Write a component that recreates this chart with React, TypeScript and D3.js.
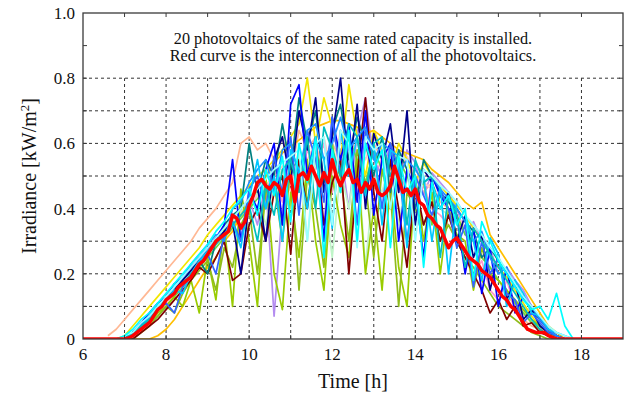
import * as d3 from "d3";

// sampling grid of the 20 single-site curves (h)
const TIME = d3.range(66, 179, 2).map((v) => v / 10);
// sampling grid of the interconnected (red) curve (h)
const RED_TIME = d3.range(60, 191).map((v) => v / 10);

const X_LABELS = [6, 8, 10, 12, 14, 16, 18];
const Y_LABELS = [0, 0.2, 0.4, 0.6, 0.8, 1.0];

const PV_PEACH = [.01,.03,.06,.09,.12,.15,.18,.21,.24,.27,.30,.34,.37,.40,.44,.48,.60, .62,.58,.60,.55,.62,.50,.64,.58,.62,.45,.60,.55,.62,.50,.58,.60,.55,.50,.56,.52,.50,.45,.48,.42, .40,.36,.33,.30,.25,.22,.18,.14,.10,.06,.04,.03,.02,.01,0,0];
const PV_PINK = [0,0,0,.01,.03,.05,.08,.11,.14,.17,.20,.23,.26,.29,.32,.35,.38, .41,.44,.47,.50,.42,.55,.48,.58,.52,.60,.45,.62,.55,.50,.60,.48,.56,.52,.45,.50,.42,.47,.40,.38, .35,.30,.28,.20,.24,.15,.12,.18,.10,.08,.05,.03,.02,0,0,0];
const PV_LAVENDER = [0,0,0,.01,.03,.06,.09,.12,.15,.18,.21,.24,.27,.30,.33,.37,.40, .43,.35,.48,.07,.40,.55,.45,.60,.50,.35,.62,.58,.40,.63,.74,.55,.50,.60,.46,.58,.54,.44,.51,.48, .45,.40,.32,.36,.30,.28,.20,.22,.18,.15,.10,.06,.03,.01,0,0];
const PV_ROSE = [0,0,0,.01,.03,.05,.08,.11,.14,.17,.20,.23,.26,.29,.32,.35,.38, .41,.44,.47,.50,.53,.45,.58,.55,.60,.62,.50,.64,.58,.60,.55,.62,.57,.55,.52,.56,.50,.48,.46,.44, .42,.38,.34,.30,.26,.22,.18,.14,.12,.08,.10,.05,.03,.01,0,0];
const PV_MINT = [0,0,0,.01,.03,.06,.09,.12,.15,.18,.21,.24,.27,.30,.33,.36,.39, .42,.45,.35,.48,.52,.40,.56,.30,.55,.45,.25,.52,.40,.58,.22,.50,.45,.55,.35,.50,.40,.30,.45,.40, .38,.30,.34,.20,.28,.22,.18,.15,.12,.09,.06,.04,.02,.01,0,0];
const PV_GREEN = [0,0,0,.01,.03,.05,.07,.10,.13,.16,.19,.22,.25,.28,.31,.34,.37, .40,.43,.46,.49,.35,.52,.55,.42,.58,.50,.60,.45,.62,.55,.48,.58,.52,.40,.55,.50,.45,.48,.35,.44, .42,.38,.32,.30,.25,.22,.18,.15,.11,.08,.05,.03,.01,0,0,0];
const PV_GOLD = [0,0,0,0,0,0,.01,.03,.06,.10,.14,.18,.22,.25,.30,.33,.38, .42,.46,.50,.54,.57,.59,.61,.63,.65,.66,.67,.67,.66,.65,.63,.64,.62,.60,.58,.57,.56,.55,.52,.50, .48,.45,.42,.40,.42,.32,.28,.24,.20,.16,.12,.08,.04,.02,0,0];
const PV_YELLOW = [0,0,.01,.04,.07,.10,.13,.16,.19,.22,.25,.28,.32,.35,.38,.41,.44, .47,.50,.52,.55,.58,.62,.66,.80,.60,.74,.65,.55,.78,.62,.50,.64,.58,.52,.60,.55,.48,.54,.50,.47, .44,.41,.38,.34,.30,.26,.22,.19,.15,.11,.07,.04,.02,0,0,0];
const PV_YELLOWGREEN = [0,0,0,.01,.03,.05,.08,.10,.13,.10,.18,.08,.25,.12,.35,.10,.46, .30,.10,.50,.20,.09,.45,.25,.55,.30,.15,.50,.35,.25,.55,.20,.40,.15,.48,.22,.10,.50,.30,.45,.20, .40,.32,.30,.15,.28,.20,.18,.15,.12,.09,.06,.04,.02,0,0,0];
const PV_OLIVE = [0,0,0,0,.02,.04,.07,.10,.08,.14,.18,.21,.24,.15,.28,.22,.35, .40,.20,.45,.48,.30,.52,.15,.50,.40,.22,.55,.50,.30,.58,.48,.25,.52,.45,.10,.45,.40,.35,.42,.30, .35,.30,.25,.22,.18,.14,.10,.08,.06,.04,.02,.01,0,0,0,0];
const PV_MAROON = [0,0,0,0,.02,.04,.06,.09,.12,.15,.18,.22,.20,.25,.30,.18,.20, .35,.40,.30,.45,.50,.26,.55,.40,.60,.35,.48,.55,.20,.50,.74,.45,.30,.55,.40,.22,.48,.35,.42,.30, .38,.30,.25,.20,.15,.08,.12,.06,.10,.04,.05,.02,.01,0,0,0];
const PV_TEAL = [0,0,0,.02,.04,.07,.10,.12,.15,.18,.21,.24,.20,.30,.35,.38,.40, .60,.45,.55,.50,.66,.52,.74,.60,.70,.48,.64,.72,.55,.68,.60,.50,.62,.45,.58,.52,.40,.55,.50,.45, .42,.40,.36,.33,.25,.28,.24,.20,.17,.13,.09,.06,.03,.01,0,0];
const PV_NAVY = [0,0,0,.01,.03,.06,.09,.12,.15,.18,.21,.24,.27,.30,.33,.36,.20, .42,.47,.30,.55,.62,.48,.70,.58,.74,.45,.62,.80,.50,.72,.40,.63,.55,.66,.45,.70,.35,.52,.48,.40, .45,.30,.38,.25,.32,.15,.26,.12,.18,.06,.09,.04,.02,.01,0,0];
const PV_BLUE = [0,0,0,.02,.05,.08,.11,.13,.17,.19,.22,.25,.28,.31,.35,.55,.30, .45,.40,.52,.60,.35,.72,.78,.50,.62,.30,.68,.55,.66,.42,.70,.38,.55,.60,.30,.52,.46,.25,.50,.44, .40,.38,.20,.34,.14,.28,.10,.22,.08,.13,.10,.06,.03,.01,0,0];
const PV_MEDBLUE = [0,0,0,.02,.04,.06,.09,.11,.08,.16,.20,.23,.26,.20,.32,.36,.30, .46,.50,.40,.56,.45,.62,.38,.64,.55,.42,.68,.50,.60,.35,.64,.58,.40,.60,.52,.30,.50,.44,.38,.46, .40,.28,.35,.16,.30,.20,.25,.14,.12,.05,.08,.05,.02,.01,0,0];
const PV_DODGER = [0,0,0,.01,.04,.07,.09,.13,.16,.19,.23,.26,.29,.32,.30,.40,.42, .48,.52,.55,.45,.58,.60,.50,.64,.66,.55,.60,.68,.58,.62,.65,.55,.60,.58,.50,.55,.52,.48,.50,.46, .43,.40,.36,.30,.33,.25,.20,.22,.16,.12,.10,.06,.03,.01,0,0];
const PV_SKY = [0,0,0,.02,.04,.07,.10,.12,.15,.14,.20,.24,.27,.30,.32,.36,.28, .43,.55,.40,.50,.30,.58,.52,.40,.61,.55,.34,.64,.50,.62,.44,.60,.35,.58,.56,.28,.54,.50,.30,.47, .20,.42,.38,.30,.18,.31,.26,.10,.18,.14,.08,.07,.03,.02,.01,0];
const PV_DEEPCYAN = [0,0,0,.02,.04,.06,.09,.12,.14,.17,.20,.23,.26,.29,.32,.35,.38, .41,.30,.47,.38,.52,.55,.45,.62,.40,.65,.58,.50,.66,.62,.45,.60,.62,.50,.57,.35,.55,.48,.50,.25, .44,.38,.22,.34,.30,.26,.22,.18,.14,.10,.06,.03,.01,0,0,0];
const PV_LIGHTCYAN = [0,0,.01,.02,.05,.07,.10,.13,.16,.19,.22,.25,.28,.31,.34,.37,.40, .43,.46,.49,.52,.54,.56,.58,.30,.60,.62,.35,.64,.60,.28,.62,.58,.60,.40,.56,.55,.30,.52,.50,.47, .45,.42,.38,.35,.32,.28,.25,.21,.17,.13,.10,.07,.04,.02,.01,0];
const PV_CYAN = [0,0,.01,.03,.06,.08,.11,.14,.17,.20,.23,.26,.29,.33,.36,.40,.43, .46,.38,.52,.44,.56,.36,.60,.48,.62,.25,.58,.45,.64,.30,.60,.52,.58,.28,.56,.45,.50,.22,.48,.40, .44,.35,.40,.18,.36,.30,.24,.20,.16,.12,.09,.10,.06,.14,.04,0];

const PV_SERIES = [PV_PEACH, PV_PINK, PV_LAVENDER, PV_ROSE, PV_MINT, PV_GREEN, PV_GOLD, PV_YELLOW, PV_YELLOWGREEN, PV_OLIVE, PV_MAROON, PV_TEAL, PV_NAVY, PV_BLUE, PV_MEDBLUE, PV_DODGER, PV_SKY, PV_DEEPCYAN, PV_LIGHTCYAN, PV_CYAN];
const PV_COLORS = ["#ffb894", "#ff99cc", "#b48cf0", "#ffc4c4", "#bff5c8", "#66dd44", "#ffbf00", "#f2e600", "#99cc00", "#8fbc1a", "#800000", "#008080", "#00008b", "#0000ff", "#3366ff", "#1e90ff", "#00c8ff", "#00bfbf", "#99ffff", "#00ffff"];

const RED = [
  0,0,0,0,0,0,0,0,0,0,
  0,.003,.01,.02,.03,.04,.05,.07,.09,.10,
  .12,.13,.14,.16,.17,.18,.19,.21,.23,.24,
  .26,.28,.30,.31,.32,.33,.38,.37,.34,.36,
  .41,.44,.48,.49,.47,.46,.48,.47,.44,.49,
  .50,.42,.50,.51,.49,.53,.50,.47,.51,.48,
  .55,.50,.47,.50,.52,.48,.49,.45,.48,.46,
  .49,.45,.44,.45,.47,.53,.49,.45,.46,.44,
  .46,.42,.41,.38,.37,.35,.34,.31,.28,.30,
  .31,.29,.27,.25,.24,.23,.21,.20,.19,.17,
  .15,.13,.12,.10,.09,.07,.05,.03,.025,.02,
  .02,.02,.01,.005,0,0,0,0,0,0,
  0,0,0,0,0,0,0,0,0,0,0,
];

const W = 626;
const H = 397;
const M = { left: 83, right: 3, top: 13, bottom: 58 };

export default function App() {
  const x = d3.scaleLinear().domain([6, 19]).range([M.left, W - M.right]);
  const y = d3.scaleLinear().domain([0, 1]).range([H - M.bottom, M.top]);
  const hours = d3.range(7, 19);
  const tenths = d3.range(1, 10).map((v) => v / 10);

  const line = d3
    .line<number>()
    .defined((d) => d != null)
    .x((_, i) => x(TIME[i]))
    .y((d) => y(d));
  const redLine = d3
    .line<number>()
    .x((_, i) => x(RED_TIME[i]))
    .y((d) => y(d));

  const serif = "'Liberation Serif', 'Times New Roman', serif";
  const frame = "#3a3a3a";
  const midX = (M.left + W - M.right) / 2;

  return (
    <svg width={W} height={H} style={{ position: "absolute", left: 0, top: 0, background: "#fff" }}>
      <defs>
        <clipPath id="plot-clip">
          <rect x={M.left} y={M.top} width={W - M.left - M.right} height={H - M.top - M.bottom} />
        </clipPath>
      </defs>

      {/* Grid lines (hidden above 0.8 by the note) */}
      {hours.map((h) => (
        <line key={"gx" + h} x1={x(h)} x2={x(h)} y1={y(0)} y2={y(0.8)} stroke="#333" strokeWidth={1} strokeDasharray="3,3" />
      ))}
      {tenths.filter((v) => v <= 0.8).map((v) => (
        <line key={"gy" + v} x1={x(6)} x2={x(19)} y1={y(v)} y2={y(v)} stroke="#333" strokeWidth={1} strokeDasharray="3,3" />
      ))}

      {/* Single photovoltaic curves */}
      <g clipPath="url(#plot-clip)" fill="none" strokeLinejoin="round">
        {PV_SERIES.map((s, i) => (
          <path key={i} d={line(s) ?? ""} stroke={PV_COLORS[i]} strokeWidth={1.7} />
        ))}
        <path d={redLine(RED) ?? ""} stroke="#ff0000" strokeWidth={3.5} />
      </g>

      {/* Frame and inward ticks */}
      <rect x={M.left} y={M.top} width={W - M.left - M.right} height={H - M.top - M.bottom} fill="none" stroke={frame} strokeWidth={1.3} />
      {hours.map((h) => (
        <g key={"tx" + h} stroke={frame} strokeWidth={1}>
          <line x1={x(h)} x2={x(h)} y1={y(1)} y2={y(1) + 4} />
          <line x1={x(h)} x2={x(h)} y1={y(0)} y2={y(0) - 4} />
        </g>
      ))}
      {tenths.map((v) => (
        <g key={"ty" + v} stroke={frame} strokeWidth={1}>
          <line x1={x(6)} x2={x(6) + 4} y1={y(v)} y2={y(v)} />
          <line x1={x(19)} x2={x(19) - 4} y1={y(v)} y2={y(v)} />
        </g>
      ))}

      {/* Tick labels */}
      {X_LABELS.map((h) => (
        <text key={"lx" + h} x={x(h)} y={y(0) + 21} textAnchor="middle" fontFamily={serif} fontSize={17} fill="#111">
          {h}
        </text>
      ))}
      {Y_LABELS.map((v) => (
        <text key={"ly" + v} x={M.left - 8} y={y(v) + 6} textAnchor="end" fontFamily={serif} fontSize={17} fill="#111">
          {v === 0 ? "0" : d3.format(".1f")(v)}
        </text>
      ))}

      {/* Axis titles */}
      <text x={midX} y={388} textAnchor="middle" fontFamily={serif} fontSize={20} fill="#111">
        Time [h]
      </text>
      <text
        transform={`translate(36,${(M.top + H - M.bottom) / 2}) rotate(-90)`}
        textAnchor="middle"
        fontFamily={serif}
        fontSize={20}
        fill="#111"
      >
        Irradiance [kW/m<tspan dy={-7} fontSize={13}>2</tspan>
        <tspan dy={7}>]</tspan>
      </text>

      {/* Note */}
      <g fontFamily={serif} fontSize={16.2} fill="#111" textAnchor="middle">
        <text x={midX} y={44}>
          20 photovoltaics of the same rated capacity is installed.
        </text>
        <text x={midX} y={61}>
          Red curve is the interconnection of all the photovoltaics.
        </text>
      </g>
    </svg>
  );
}
